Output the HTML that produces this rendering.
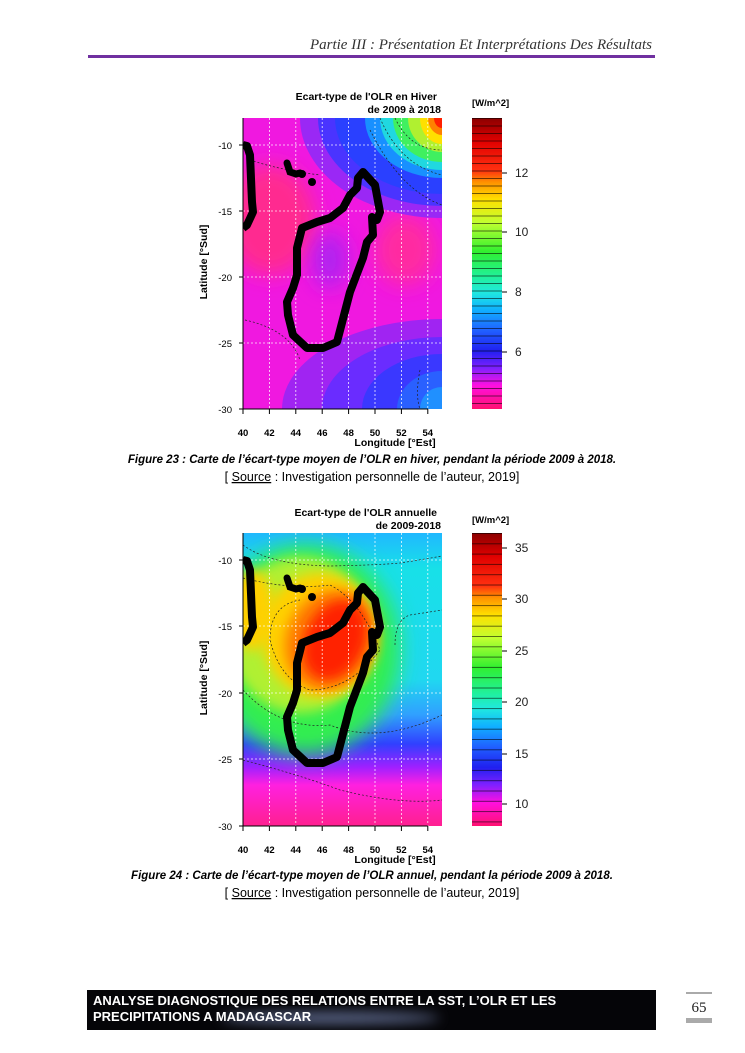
<!DOCTYPE html>
<html><head><meta charset="utf-8"><style>
html,body{margin:0;padding:0;background:#fff;}
svg{display:block;}
text{font-family:"Liberation Sans",Arial,sans-serif;}
</style></head><body>
<svg width="745" height="1053" viewBox="0 0 745 1053" xmlns="http://www.w3.org/2000/svg">
<defs>
<filter id="b1" x="-50%" y="-50%" width="200%" height="200%"><feGaussianBlur stdDeviation="10"/></filter>
<filter id="b2" x="-50%" y="-50%" width="200%" height="200%"><feGaussianBlur stdDeviation="6"/></filter>
<clipPath id="c1"><rect x="243" y="118" width="199" height="291"/></clipPath>
<clipPath id="c2"><rect x="243" y="533" width="199" height="293"/></clipPath>
<linearGradient id="cb" x1="0" y1="0" x2="0" y2="1">
<stop offset="0" stop-color="#8b0000"/><stop offset="0.08" stop-color="#e00000"/><stop offset="0.18" stop-color="#ff3010"/>
<stop offset="0.22" stop-color="#ff9000"/><stop offset="0.28" stop-color="#ffe000"/><stop offset="0.36" stop-color="#c0ff30"/>
<stop offset="0.46" stop-color="#30f030"/><stop offset="0.55" stop-color="#20f0a0"/><stop offset="0.6" stop-color="#20e8e0"/>
<stop offset="0.66" stop-color="#10b0ff"/><stop offset="0.73" stop-color="#2060ff"/><stop offset="0.8" stop-color="#2020f0"/>
<stop offset="0.86" stop-color="#8020ff"/><stop offset="0.92" stop-color="#ff10e0"/><stop offset="1" stop-color="#ff1070"/>
</linearGradient>
<pattern id="ln1" width="10" height="7.5" patternUnits="userSpaceOnUse" y="118"><line x1="0" y1="0.5" x2="10" y2="0.5" stroke="#000" stroke-width="0.8" opacity="0.7"/></pattern>
<pattern id="ln2" width="10" height="10.3" patternUnits="userSpaceOnUse" y="533"><line x1="0" y1="0.5" x2="10" y2="0.5" stroke="#000" stroke-width="0.8" opacity="0.7"/></pattern>
<linearGradient id="g2" x1="0" y1="0" x2="0" y2="1">
<stop offset="0" stop-color="#20b8ff"/><stop offset="0.12" stop-color="#18e0e8"/><stop offset="0.5" stop-color="#20d8f0"/>
<stop offset="0.62" stop-color="#30a0ff"/><stop offset="0.72" stop-color="#3040ff"/><stop offset="0.8" stop-color="#a020ff"/>
<stop offset="0.86" stop-color="#ff20e0"/><stop offset="1" stop-color="#ff2090"/>
</linearGradient>
<g id="mada">
<polygon points="363,172 375,185 380,212 377,220 372,217 373,235 367,242 363,258 350,292 337,342 323,348 307,348 293,335 288,315 287,302 293,288 297,275 297,248 302,228 317,222 330,218 343,208 350,195 357,188 358,178" fill="none" stroke="#000" stroke-width="8" stroke-linejoin="round"/>
<polyline points="243,145 247,146 250,155 252,202 253,212 247,225 243,228" fill="none" stroke="#000" stroke-width="8" stroke-linejoin="round"/>
<polyline points="287,163 290,172 296,174 300,173" fill="none" stroke="#000" stroke-width="7" stroke-linecap="round"/>
<circle cx="302" cy="174" r="4"/><circle cx="312" cy="182" r="4"/>
</g>
</defs>

<text x="652" y="49" text-anchor="end" font-size="15" font-style="italic" fill="#333" style="font-family:'Liberation Serif',serif">Partie III : Présentation Et Interprétations Des Résultats</text>
<rect x="88" y="55" width="567" height="3" fill="#7030a0"/>

<!-- MAP 1 -->
<rect x="243" y="118" width="199" height="291" fill="#f018e0"/>
<g clip-path="url(#c1)">
<ellipse cx="270" cy="220" rx="45" ry="55" fill="#ff2a90" filter="url(#b1)"/>
<ellipse cx="405" cy="250" rx="30" ry="35" fill="#ff2aa0" filter="url(#b1)"/>
<ellipse cx="330" cy="260" rx="18" ry="28" fill="#b020f0" filter="url(#b1)"/>
</g>
<!-- bottom-right quarter ellipses -->
<path d="M282,409 A160,90 0 0 1 442,319 L442,409 Z" fill="#a024f2"/>
<path d="M322,409 A120,72 0 0 1 442,337 L442,409 Z" fill="#6a2cff"/>
<path d="M362,409 A80,55 0 0 1 442,354 L442,409 Z" fill="#3a38ff"/>
<path d="M397,409 A45,38 0 0 1 442,371 L442,409 Z" fill="#2a60ff"/>
<path d="M420,409 A22,22 0 0 1 442,387 L442,409 Z" fill="#2090ff"/>
<!-- top-right quarter ellipses -->
<path d="M300,118 A142,100 0 0 0 442,218 L442,118 Z" fill="#9a28f5"/>
<path d="M318,118 A124,88 0 0 0 442,206 L442,118 Z" fill="#4a34ff"/>
<path d="M335,118 A107,76 0 0 0 442,194 L442,118 Z" fill="#2a40ff"/>
<path d="M365,118 A77,60 0 0 0 442,178 L442,118 Z" fill="#1890ff"/>
<path d="M380,118 A62,52 0 0 0 442,170 L442,118 Z" fill="#20d8e0"/>
<path d="M393,118 A49,44 0 0 0 442,162 L442,118 Z" fill="#40f060"/>
<path d="M408,118 A34,34 0 0 0 442,152 L442,118 Z" fill="#b0f030"/>
<path d="M420,118 A22,26 0 0 0 442,144 L442,118 Z" fill="#ffe000"/>
<path d="M428,118 A14,17 0 0 0 442,135 L442,118 Z" fill="#ff8000"/>
<path d="M434,118 A8,10 0 0 0 442,128 L442,118 Z" fill="#ff2000"/>
<g clip-path="url(#c1)">
<g stroke="#fff" stroke-width="0.8" stroke-dasharray="2,2" opacity="0.9">
<line x1="269.4" y1="118" x2="269.4" y2="409"/><line x1="295.8" y1="118" x2="295.8" y2="409"/><line x1="322.2" y1="118" x2="322.2" y2="409"/><line x1="348.6" y1="118" x2="348.6" y2="409"/><line x1="375" y1="118" x2="375" y2="409"/><line x1="401.4" y1="118" x2="401.4" y2="409"/><line x1="427.8" y1="118" x2="427.8" y2="409"/>
<line x1="243" y1="145" x2="442" y2="145"/><line x1="243" y1="211" x2="442" y2="211"/><line x1="243" y1="277" x2="442" y2="277"/><line x1="243" y1="343" x2="442" y2="343"/>
</g>
<g fill="none" stroke="#222" stroke-width="0.7" stroke-dasharray="2,2">
<path d="M395,118 Q410,150 442,150"/><path d="M380,118 Q400,165 442,175"/><path d="M370,130 Q400,190 442,205"/>
<path d="M250,160 Q280,170 320,175"/><path d="M245,320 Q290,330 300,360"/><path d="M420,370 Q415,395 420,409"/>
</g>
<use href="#mada"/>
</g>
<g fill="#000" font-size="9.5">
<line x1="243" y1="118" x2="243" y2="409" stroke="#000"/>
<line x1="243" y1="409" x2="428" y2="409" stroke="#000"/>
<g stroke="#000"><line x1="239" y1="145" x2="243" y2="145"/><line x1="239" y1="211" x2="243" y2="211"/><line x1="239" y1="277" x2="243" y2="277"/><line x1="239" y1="343" x2="243" y2="343"/><line x1="239" y1="409" x2="243" y2="409"/>
<line x1="243" y1="409" x2="243" y2="414"/><line x1="269.4" y1="409" x2="269.4" y2="414"/><line x1="295.8" y1="409" x2="295.8" y2="414"/><line x1="322.2" y1="409" x2="322.2" y2="414"/><line x1="348.6" y1="409" x2="348.6" y2="414"/><line x1="375" y1="409" x2="375" y2="414"/><line x1="401.4" y1="409" x2="401.4" y2="414"/><line x1="427.8" y1="409" x2="427.8" y2="414"/></g>
<g text-anchor="end"><text x="232" y="149">-10</text><text x="232" y="215">-15</text><text x="232" y="281">-20</text><text x="232" y="347">-25</text><text x="232" y="413">-30</text></g>
<g text-anchor="middle" font-weight="bold"><text x="243" y="436">40</text><text x="269.4" y="436">42</text><text x="295.8" y="436">44</text><text x="322.2" y="436">46</text><text x="348.6" y="436">48</text><text x="375" y="436">50</text><text x="401.4" y="436">52</text><text x="427.8" y="436">54</text></g>
<text x="395" y="446" text-anchor="middle" font-weight="bold" font-size="10.5">Longitude [°Est]</text>
<text transform="translate(207,262) rotate(-90)" text-anchor="middle" font-weight="bold" font-size="10.5">Latitude [°Sud]</text>
<text x="437" y="100" text-anchor="end" font-weight="bold" font-size="10.5">Ecart-type de l'OLR en Hiver</text>
<text x="441" y="113" text-anchor="end" font-weight="bold" font-size="10.5">de 2009 à 2018</text>
<text x="472" y="106" font-size="9.5" font-weight="bold">[W/m^2]</text>
</g>
<rect x="472" y="118" width="30" height="291" fill="url(#cb)"/>
<rect x="472" y="118" width="30" height="291" fill="url(#ln1)"/>
<g stroke="#000"><line x1="502" y1="173" x2="507" y2="173"/><line x1="502" y1="232" x2="507" y2="232"/><line x1="502" y1="292" x2="507" y2="292"/><line x1="502" y1="352" x2="507" y2="352"/></g>
<g font-size="12" fill="#222"><text x="515" y="177">12</text><text x="515" y="236">10</text><text x="515" y="296">8</text><text x="515" y="356">6</text></g>

<text x="372" y="463" text-anchor="middle" font-size="11.5" font-weight="bold" font-style="italic" fill="#000">Figure 23 : Carte de l’écart-type moyen de l’OLR en hiver, pendant la période 2009 à 2018.</text>
<text x="372" y="481" text-anchor="middle" font-size="12.5" fill="#000">[ <tspan text-decoration="underline">Source</tspan> : Investigation personnelle de l’auteur, 2019]</text>

<!-- MAP 2 -->
<g clip-path="url(#c2)">
<rect x="243" y="533" width="199" height="293" fill="url(#g2)"/>
<ellipse cx="305" cy="650" rx="95" ry="105" fill="#30ee50" filter="url(#b1)"/>
<ellipse cx="300" cy="635" rx="72" ry="78" fill="#b0f030" filter="url(#b2)"/>
<ellipse cx="252" cy="610" rx="22" ry="40" fill="#ffd000" filter="url(#b2)"/>
<ellipse cx="320" cy="635" rx="58" ry="62" fill="#ffd000" filter="url(#b2)"/>
<ellipse cx="330" cy="640" rx="44" ry="52" fill="#ff8000" filter="url(#b2)" transform="rotate(25 330 640)"/>
<ellipse cx="335" cy="640" rx="30" ry="42" fill="#ff2000" filter="url(#b2)" transform="rotate(25 335 640)"/>
<g stroke="#fff" stroke-width="0.8" stroke-dasharray="2,2" opacity="0.9">
<line x1="269.4" y1="533" x2="269.4" y2="826"/><line x1="295.8" y1="533" x2="295.8" y2="826"/><line x1="322.2" y1="533" x2="322.2" y2="826"/><line x1="348.6" y1="533" x2="348.6" y2="826"/><line x1="375" y1="533" x2="375" y2="826"/><line x1="401.4" y1="533" x2="401.4" y2="826"/><line x1="427.8" y1="533" x2="427.8" y2="826"/>
<line x1="243" y1="560" x2="442" y2="560"/><line x1="243" y1="626" x2="442" y2="626"/><line x1="243" y1="693" x2="442" y2="693"/><line x1="243" y1="759" x2="442" y2="759"/>
</g>
<g fill="none" stroke="#222" stroke-width="0.7" stroke-dasharray="2,2">
<path d="M243,545 Q270,565 330,566 Q380,565 400,563 Q420,560 442,556"/>
<path d="M243,578 Q290,590 330,585 Q360,600 380,650 Q350,690 310,690 Q280,680 270,640 Q270,605 300,600"/>
<path d="M395,645 Q395,620 410,615 Q430,612 442,610"/>
<path d="M243,690 Q280,730 330,725 Q380,745 442,715"/>
<path d="M243,760 Q300,775 340,790 Q400,805 442,800"/>
</g>
<use href="#mada" transform="translate(0,415)"/>
</g>
<g fill="#000" font-size="9.5">
<line x1="243" y1="533" x2="243" y2="826" stroke="#000"/>
<line x1="243" y1="826" x2="428" y2="826" stroke="#000"/>
<g stroke="#000"><line x1="239" y1="560" x2="243" y2="560"/><line x1="239" y1="626" x2="243" y2="626"/><line x1="239" y1="693" x2="243" y2="693"/><line x1="239" y1="759" x2="243" y2="759"/><line x1="239" y1="826" x2="243" y2="826"/>
<line x1="243" y1="826" x2="243" y2="831"/><line x1="269.4" y1="826" x2="269.4" y2="831"/><line x1="295.8" y1="826" x2="295.8" y2="831"/><line x1="322.2" y1="826" x2="322.2" y2="831"/><line x1="348.6" y1="826" x2="348.6" y2="831"/><line x1="375" y1="826" x2="375" y2="831"/><line x1="401.4" y1="826" x2="401.4" y2="831"/><line x1="427.8" y1="826" x2="427.8" y2="831"/></g>
<g text-anchor="end"><text x="232" y="564">-10</text><text x="232" y="630">-15</text><text x="232" y="697">-20</text><text x="232" y="763">-25</text><text x="232" y="830">-30</text></g>
<g text-anchor="middle" font-weight="bold"><text x="243" y="853">40</text><text x="269.4" y="853">42</text><text x="295.8" y="853">44</text><text x="322.2" y="853">46</text><text x="348.6" y="853">48</text><text x="375" y="853">50</text><text x="401.4" y="853">52</text><text x="427.8" y="853">54</text></g>
<text x="395" y="863" text-anchor="middle" font-weight="bold" font-size="10.5">Longitude [°Est]</text>
<text transform="translate(207,678) rotate(-90)" text-anchor="middle" font-weight="bold" font-size="10.5">Latitude [°Sud]</text>
<text x="437" y="516" text-anchor="end" font-weight="bold" font-size="10.5">Ecart-type de l'OLR annuelle</text>
<text x="441" y="529" text-anchor="end" font-weight="bold" font-size="10.5">de 2009-2018</text>
<text x="472" y="523" font-size="9.5" font-weight="bold">[W/m^2]</text>
</g>
<rect x="472" y="533" width="30" height="293" fill="url(#cb)"/>
<rect x="472" y="533" width="30" height="293" fill="url(#ln2)"/>
<g stroke="#000"><line x1="502" y1="548" x2="507" y2="548"/><line x1="502" y1="599" x2="507" y2="599"/><line x1="502" y1="651" x2="507" y2="651"/><line x1="502" y1="702" x2="507" y2="702"/><line x1="502" y1="754" x2="507" y2="754"/><line x1="502" y1="804" x2="507" y2="804"/></g>
<g font-size="12" fill="#222"><text x="515" y="552">35</text><text x="515" y="603">30</text><text x="515" y="655">25</text><text x="515" y="706">20</text><text x="515" y="758">15</text><text x="515" y="808">10</text></g>

<text x="372" y="879" text-anchor="middle" font-size="11.5" font-weight="bold" font-style="italic" fill="#000">Figure 24 : Carte de l’écart-type moyen de l’OLR annuel, pendant la période 2009 à 2018.</text>
<text x="372" y="897" text-anchor="middle" font-size="12.5" fill="#000">[ <tspan text-decoration="underline">Source</tspan> : Investigation personnelle de l’auteur, 2019]</text>

<rect x="87" y="990" width="569" height="40" fill="#050508"/>
<ellipse cx="330" cy="1018" rx="110" ry="6" fill="#8090c0" opacity="0.7" filter="url(#b2)"/>
<text x="93" y="1005" font-size="13" font-weight="bold" fill="#fff">ANALYSE DIAGNOSTIQUE DES RELATIONS ENTRE LA SST, L’OLR ET LES</text>
<text x="93" y="1021" font-size="13" font-weight="bold" fill="#fff">PRECIPITATIONS A MADAGASCAR</text>
<rect x="686" y="992" width="26" height="2" fill="#aaa"/>
<text x="699" y="1012" text-anchor="middle" font-size="15" fill="#222" style="font-family:'Liberation Serif',serif">65</text>
<rect x="686" y="1018" width="26" height="5" fill="#aaa"/>
</svg>
</body></html>
